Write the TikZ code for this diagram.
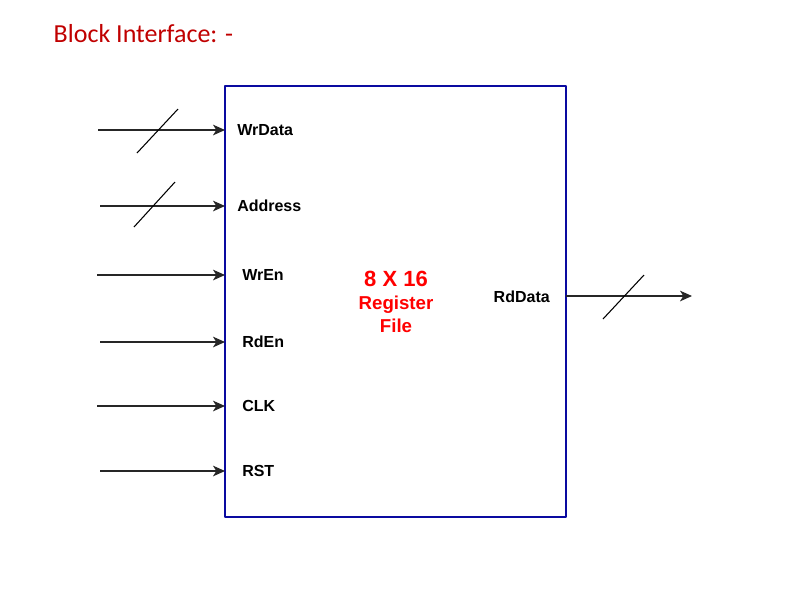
\documentclass[tikz,border=0pt]{standalone}
\usepackage{fontspec}
\setmainfont{Liberation Sans}
\newfontfamily\titlefont{Carlito}
\usetikzlibrary{arrows.meta}
\definecolor{boxblue}{RGB}{10,10,160}
\definecolor{titlered}{RGB}{192,0,0}
\definecolor{rfred}{RGB}{255,0,0}

\begin{document}
\begin{tikzpicture}[x=0.75pt,y=-0.75pt,>={Stealth[length=9pt,width=8pt,inset=2.5pt]}, line join=round]
	\tikzset{port/.style={font=\bfseries\fontsize{12}{14}\selectfont},
		wire/.style={->,line width=0.9pt,draw=black!85},
		bus/.style={line width=0.8pt}}
	\useasboundingbox (0,0) rectangle (800,612);
	\node[anchor=base west,text=titlered,font=\titlefont\fontsize{19.5}{23}\selectfont] (title) at (49,42) {Block Interface: -};
	% register file block
	\node[draw=boxblue,line width=2.2pt,outer sep=0pt,minimum width=255.75pt,minimum height=323.25pt] (rf) at (395.5,301.5) {};
	\node[text=rfred,align=center,font=\bfseries\fontsize{14}{17.5}\selectfont] (name) at (396,302) {{\fontsize{16.5}{18}\selectfont 8 X 16}\\Register\\File};
	% inputs
	\foreach \p/\y/\xs/\xl in {WrData/130/98/237, Address/206/100/237, WrEn/275/97/242, RdEn/342/100/242, CLK/406/97/242, RST/471/100/242}{
		\coordinate (in\p) at (\xs,\y);
		\draw[wire] (in\p) -- (rf.west |- in\p);
		\node[port,anchor=west,inner sep=0pt] (l\p) at (\xl,\y) {\p};
	}
	\draw[bus] (137,153) -- (178,109);
	\draw[bus] (134,227) -- (175,182);
	% output
	\coordinate (out) at (692,296);
	\draw[wire] (rf.east |- out) -- (out);
	\node[port,anchor=east,inner sep=0pt] (lRdData) at (550,297) {RdData};
	\draw[bus] (603,319) -- (644,275);
\end{tikzpicture}
\end{document}
